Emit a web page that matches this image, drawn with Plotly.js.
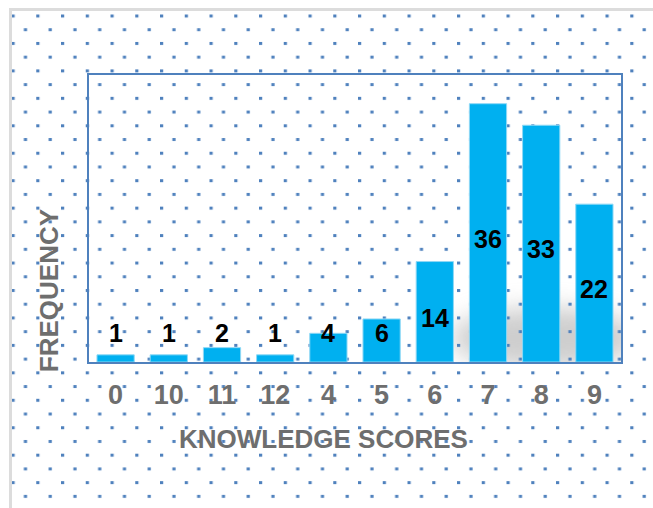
<!DOCTYPE html>
<html>
<head>
<meta charset="utf-8">
<script src="https://cdn.plot.ly/plotly-3.0.1.min.js"></script>
<style>
  html, body { margin: 0; padding: 0; background: #ffffff; }
  #wrap { position: relative; width: 653px; height: 508px; overflow: hidden; }
  #bg { position: absolute; left: 0; top: 0; }
  #chart { position: absolute; left: 0; top: 0; width: 653px; height: 508px; }
</style>
</head>
<body>
<div id="wrap">
  <svg id="bg" width="653" height="508" xmlns="http://www.w3.org/2000/svg">
    <defs>
      <pattern id="dots" x="11.5" y="14.5" width="24.75" height="27.45" patternUnits="userSpaceOnUse">
        <rect x="0" y="0" width="3.2" height="3" fill="#4F81BD"/>
        <rect x="12.375" y="13.72" width="3.2" height="3" fill="#4F81BD"/>
      </pattern>
      <filter id="blur" x="-50%" y="-50%" width="200%" height="200%">
        <feGaussianBlur stdDeviation="12"/>
      </filter>
      <clipPath id="plotclip">
        <rect x="89" y="75" width="532" height="287"/>
      </clipPath>
    </defs>
    <rect x="0" y="0" width="653" height="508" fill="#ffffff"/>
    <g clip-path="url(#plotclip)">
      <ellipse cx="545" cy="338" rx="95" ry="30" fill="#9c9c9c" opacity="0.5" filter="url(#blur)"/>
    </g>
    <rect x="11" y="10" width="642" height="498" fill="url(#dots)"/>
    <line x1="10.5" y1="9" x2="10.5" y2="508" stroke="#dcdcdc" stroke-width="3"/>
    <line x1="9" y1="9.5" x2="653" y2="9.5" stroke="#dcdcdc" stroke-width="3"/>
  </svg>
  <div id="chart"></div>
</div>
<script>
const categories = ['0', '10', '11', '12', '4', '5', '6', '7', '8', '9'];
const frequency = [1, 1, 2, 1, 4, 6, 14, 36, 33, 22];
const xTitle = 'KNOWLEDGE SCORES';
const yTitle = 'FREQUENCY';

const fontFam = 'Liberation Sans, Arial, sans-serif';

const labelAnnotations = categories.map((c, i) => ({
  x: i,
  y: Math.max(frequency[i] / 2 - 0.8, 4),
  xref: 'x', yref: 'y',
  text: String(frequency[i]),
  showarrow: false,
  xanchor: 'center', yanchor: 'middle',
  font: {family: fontFam, size: 25, color: '#000000', weight: 'bold'}
}));

const titleAnnotations = [
  {
    x: 0.441, y: -0.268, xref: 'paper', yref: 'paper',
    text: xTitle, showarrow: false, xanchor: 'center', yanchor: 'middle',
    font: {family: fontFam, size: 26, color: '#6e6e6e', weight: 'bold'}
  },
  {
    x: -0.075, y: 0.247, xref: 'paper', yref: 'paper',
    text: yTitle, showarrow: false, xanchor: 'center', yanchor: 'middle',
    textangle: -90,
    font: {family: fontFam, size: 26, color: '#6e6e6e', weight: 'bold'}
  }
];

const trace = {
  type: 'bar',
  x: categories,
  y: frequency,
  marker: {color: '#00B0F0', line: {color: '#8fd8f5', width: 1}},
  hoverinfo: 'skip'
};

const layout = {
  width: 653,
  height: 508,
  margin: {l: 89, r: 32, t: 75, b: 146, pad: 0},
  paper_bgcolor: 'rgba(0,0,0,0)',
  plot_bgcolor: 'rgba(0,0,0,0)',
  showlegend: false,
  bargap: 0.3,
  xaxis: {
    type: 'category',
    range: [-0.5, 9.5],
    showline: true, mirror: true, linecolor: '#4F81BD', linewidth: 2,
    showgrid: false, zeroline: false,
    ticks: '',
    ticklabelstandoff: 8,
    tickfont: {family: fontFam, size: 27, color: '#6e6e6e', weight: 'bold'}
  },
  yaxis: {
    range: [0, 40],
    showline: true, mirror: true, linecolor: '#4F81BD', linewidth: 2,
    showgrid: false, zeroline: false, showticklabels: false, ticks: ''
  },
  annotations: labelAnnotations.concat(titleAnnotations)
};

Plotly.newPlot('chart', [trace], layout, {displayModeBar: false, staticPlot: true});
</script>
</body>
</html>
